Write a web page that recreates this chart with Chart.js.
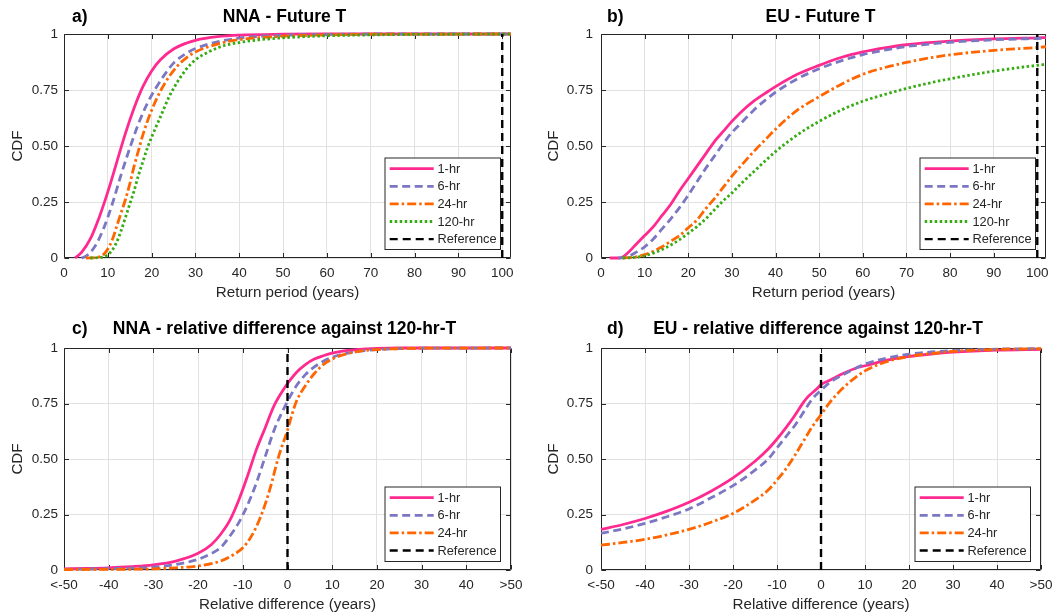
<!DOCTYPE html>
<html>
<head>
<meta charset="utf-8">
<script src="https://cdn.jsdelivr.net/npm/chart.js@4"></script>
<style>
  body { margin: 0; background: #fff; }
  #wrap { position: relative; width: 1060px; height: 615px; }
  canvas { position: absolute; }
</style>
</head>
<body>
<div id="wrap">
  <canvas id="cA" width="530" height="300" style="left:0;top:0"></canvas>
  <canvas id="cB" width="530" height="300" style="left:530px;top:0"></canvas>
  <canvas id="cC" width="530" height="315" style="left:0;top:300px"></canvas>
  <canvas id="cD" width="530" height="315" style="left:530px;top:300px"></canvas>
</div>
<script>
// ---- data: [x, CDF] ----
const nnaFut1hr = [[2.5,0],[4,0.025],[6,0.085],[8,0.18],[10,0.295],[12,0.425],[14,0.555],[16,0.67],[18,0.765],[20,0.835],[22,0.885],[25,0.933],[28,0.96],[30,0.972],[35,0.988],[40,0.995],[50,0.999],[60,1],[102,1]];
const nnaFut6hr = [[4,0],[5,0.008],[7,0.05],[9,0.13],[11,0.24],[13,0.37],[15,0.49],[17,0.6],[19,0.69],[21,0.76],[23,0.82],[25,0.87],[28,0.915],[30,0.935],[35,0.965],[40,0.982],[50,0.994],[60,0.998],[70,1],[102,1]];
const nnaFut24hr = [[5,0],[8,0.005],[9,0.015],[10,0.04],[11,0.08],[12,0.14],[13,0.2],[14,0.26],[15,0.33],[16,0.41],[17,0.48],[18,0.55],[20,0.66],[22,0.745],[24,0.81],[26,0.86],[28,0.895],[30,0.92],[35,0.955],[40,0.975],[50,0.99],[60,0.996],[70,0.999],[102,1]];
const nnaFut120hr = [[6,0],[9,0.005],[10,0.015],[11,0.035],[12,0.07],[13,0.12],[14,0.18],[15,0.24],[16,0.3],[17,0.37],[18,0.43],[19,0.49],[20,0.54],[22,0.63],[24,0.72],[26,0.79],[28,0.845],[30,0.885],[33,0.92],[36,0.945],[40,0.962],[45,0.975],[50,0.983],[60,0.992],[70,0.996],[80,0.998],[102,1]];

const euFut1hr = [[2,0],[4,0],[5,0.005],[6,0.02],[8,0.06],[10,0.1],[12,0.14],[14,0.19],[16,0.24],[18,0.3],[20,0.355],[22,0.41],[24,0.465],[26,0.52],[28,0.565],[30,0.61],[32,0.65],[35,0.7],[38,0.74],[40,0.765],[45,0.82],[50,0.86],[55,0.895],[60,0.92],[65,0.938],[70,0.952],[80,0.968],[90,0.978],[100,0.983],[102,0.984]];
const euFut6hr = [[4,0],[6,0.005],[8,0.025],[10,0.05],[12,0.085],[14,0.13],[16,0.175],[18,0.225],[20,0.28],[22,0.34],[24,0.4],[26,0.455],[28,0.51],[30,0.56],[32,0.6],[35,0.66],[38,0.71],[40,0.74],[45,0.8],[50,0.845],[55,0.88],[60,0.908],[65,0.928],[70,0.944],[80,0.963],[90,0.974],[100,0.98],[102,0.981]];
const euFut24hr = [[5,0],[8,0.005],[10,0.015],[12,0.03],[14,0.05],[16,0.075],[18,0.1],[20,0.135],[22,0.17],[24,0.22],[26,0.265],[28,0.315],[30,0.365],[32,0.41],[35,0.475],[38,0.535],[40,0.575],[45,0.66],[50,0.72],[55,0.775],[60,0.82],[65,0.85],[70,0.873],[75,0.892],[80,0.907],[90,0.927],[100,0.94],[102,0.943]];
const euFut120hr = [[5,0],[8,0.003],[10,0.01],[12,0.022],[14,0.038],[16,0.058],[18,0.082],[20,0.11],[22,0.14],[24,0.175],[26,0.215],[28,0.255],[30,0.29],[32,0.33],[35,0.385],[38,0.44],[40,0.475],[45,0.55],[50,0.61],[55,0.66],[60,0.7],[65,0.73],[70,0.757],[75,0.78],[80,0.8],[85,0.818],[90,0.834],[95,0.848],[100,0.86],[102,0.865]];

const nnaDiff1hr = [[-50,0.005],[-45,0.007],[-40,0.01],[-35,0.015],[-30,0.023],[-25,0.04],[-20,0.075],[-17,0.115],[-15,0.16],[-13,0.22],[-11,0.31],[-9,0.42],[-7,0.54],[-5,0.64],[-3,0.74],[-1,0.81],[0,0.84],[2,0.89],[4,0.925],[6,0.95],[8,0.965],[10,0.977],[13,0.988],[16,0.994],[20,0.998],[25,1],[50,1]];
const nnaDiff6hr = [[-50,0.003],[-40,0.006],[-30,0.013],[-25,0.025],[-20,0.048],[-17,0.075],[-15,0.1],[-13,0.15],[-11,0.21],[-9,0.29],[-7,0.39],[-5,0.51],[-3,0.63],[-1,0.72],[0,0.76],[2,0.83],[4,0.88],[6,0.915],[8,0.94],[10,0.958],[13,0.975],[16,0.985],[20,0.993],[25,0.997],[30,0.999],[50,1]];
const nnaDiff24hr = [[-50,0.002],[-40,0.003],[-30,0.005],[-25,0.01],[-20,0.018],[-15,0.04],[-12,0.07],[-10,0.1],[-8,0.155],[-6,0.24],[-4,0.36],[-2,0.51],[0,0.63],[1,0.7],[2,0.76],[4,0.83],[6,0.885],[8,0.925],[10,0.95],[13,0.972],[16,0.985],[20,0.993],[25,0.997],[30,0.999],[50,1]];

const euDiff1hr = [[-50,0.183],[-45,0.205],[-40,0.232],[-35,0.265],[-30,0.305],[-25,0.355],[-20,0.415],[-15,0.49],[-12,0.545],[-10,0.59],[-8,0.64],[-6,0.695],[-4,0.755],[-3,0.78],[-1,0.815],[0,0.835],[2,0.855],[5,0.885],[8,0.91],[10,0.92],[15,0.945],[20,0.962],[25,0.973],[30,0.981],[40,0.99],[50,0.994]];
const euDiff6hr = [[-50,0.165],[-45,0.185],[-40,0.21],[-35,0.24],[-30,0.275],[-25,0.325],[-20,0.38],[-15,0.45],[-12,0.5],[-10,0.55],[-8,0.6],[-6,0.65],[-4,0.71],[-2,0.77],[0,0.81],[2,0.845],[5,0.88],[8,0.91],[10,0.928],[15,0.955],[20,0.972],[25,0.982],[30,0.988],[40,0.995],[50,0.997]];
const euDiff24hr = [[-50,0.112],[-45,0.124],[-40,0.138],[-35,0.158],[-30,0.183],[-25,0.215],[-20,0.255],[-15,0.315],[-12,0.36],[-10,0.405],[-8,0.455],[-6,0.515],[-4,0.58],[-2,0.645],[0,0.7],[2,0.755],[4,0.8],[6,0.838],[8,0.87],[10,0.897],[13,0.925],[16,0.945],[20,0.962],[25,0.975],[30,0.985],[40,0.993],[50,0.997]];

const refFut = [[100,0],[100,1]];
const refDiff = [[0,0],[0,1]];

const seriesNames = ['1-hr', '6-hr', '24-hr', '120-hr', 'Reference'];
const xTicksFut = [0,10,20,30,40,50,60,70,80,90,100];
const xLabelsFut = ['0','10','20','30','40','50','60','70','80','90','100'];
const xTicksDiff = [-50,-40,-30,-20,-10,0,10,20,30,40,50];
const xLabelsDiff = ['<-50','-40','-30','-20','-10','0','10','20','30','40','>50'];
const yTicks = [0, 0.25, 0.5, 0.75, 1];
const yTickLabels = ['0', '0.25', '0.50', '0.75', '1'];

// ---- styles ----
const fontFam = '"Liberation Sans", Arial, Helvetica, sans-serif';
const ink = '#262626';
const lineColors = ['#ff2a8f', '#7b77c2', '#ff6600', '#36ab12', '#000000'];
const lineDashes = [[], [8, 4.5], [9, 3, 2.5, 3], [2.5, 2.5], [8, 5]];
const lineWidths = [2.8, 2.8, 2.8, 2.8, 2.4];

// box + inward ticks (matlab style)
const framePlugin = {
  id: 'frame',
  beforeDatasetsDraw(chart) {
    const { ctx, chartArea: a, scales: { x, y } } = chart;
    const L = Math.round(a.left) + 0.5, R = Math.round(a.right) - 0.5;
    const T = Math.round(a.top) + 0.5, B = Math.round(a.bottom) - 0.5;
    ctx.save();
    ctx.strokeStyle = ink;
    ctx.lineWidth = 1;
    ctx.beginPath();
    x.ticks.forEach(t => {
      const px = Math.round(x.getPixelForValue(t.value)) + 0.5;
      ctx.moveTo(px, B); ctx.lineTo(px, B - 4.5);
      ctx.moveTo(px, T); ctx.lineTo(px, T + 4.5);
    });
    y.ticks.forEach(t => {
      const py = Math.round(y.getPixelForValue(t.value)) + 0.5;
      ctx.moveTo(L, py); ctx.lineTo(L + 4.5, py);
      ctx.moveTo(R, py); ctx.lineTo(R - 4.5, py);
    });
    ctx.rect(L, T, R - L, B - T);
    ctx.stroke();
    ctx.restore();
  }
};

// legend box inside the lower right corner
const boxLegend = {
  id: 'boxLegend',
  afterDatasetsDraw(chart) {
    const { ctx, chartArea: a } = chart;
    const ds = chart.data.datasets;
    const rowH = 17.6, w = 116, edge = 10.7;
    const h = edge * 2 + rowH * (ds.length - 1);
    const right = Math.round(a.right - 11.5) + 0.5;
    const bottom = Math.round(a.bottom - 9) + 0.5;
    const left = Math.round(right - w) + 0.5 - 0.5, top = Math.round(bottom - h) + 0.5 - 0.5;
    ctx.save();
    ctx.fillStyle = '#fff';
    ctx.fillRect(left, top, right - left, bottom - top);
    ctx.strokeStyle = ink;
    ctx.lineWidth = 1;
    ctx.strokeRect(left, top, right - left, bottom - top);
    ctx.font = '12.8px ' + fontFam;
    ctx.textBaseline = 'middle';
    ctx.textAlign = 'left';
    ds.forEach((d, i) => {
      const cy = top + edge + i * rowH;
      ctx.beginPath();
      ctx.setLineDash(d.borderDash || []);
      ctx.strokeStyle = d.borderColor;
      ctx.lineWidth = d.borderWidth;
      ctx.moveTo(left + 4.7, cy);
      ctx.lineTo(left + 48.7, cy);
      ctx.stroke();
      ctx.setLineDash([]);
      ctx.fillStyle = ink;
      ctx.fillText(d.label, left + 52.5, cy + 0.5);
    });
    ctx.restore();
  }
};

// "a)"  + bold title
const headPlugin = {
  id: 'head',
  afterDraw(chart, args, o) {
    const { ctx, chartArea: a } = chart;
    ctx.save();
    ctx.fillStyle = '#000';
    ctx.font = 'bold 17.5px ' + fontFam;
    ctx.textBaseline = 'middle';
    ctx.textAlign = 'left';
    ctx.fillText(o.tag, a.left + o.tagDx, o.y);
    ctx.textAlign = 'center';
    ctx.fillText(o.text, (a.left + a.right) / 2 - 3, o.y);
    ctx.restore();
  }
};

function makePanel(id, p) {
  const datasets = p.series.map((pts, k) => {
    const s = p.styles[k];
    return {
      label: seriesNames[s],
      data: pts,
      borderColor: lineColors[s],
      borderWidth: lineWidths[s],
      borderDash: lineDashes[s],
      borderCapStyle: 'butt',
      pointRadius: 0,
      cubicInterpolationMode: s === 4 ? 'default' : 'monotone',
      tension: 0,
      fill: false,
      clip: 3,
      order: 10 - k
    };
  });
  return new Chart(document.getElementById(id), {
    type: 'line',
    data: { datasets: datasets },
    plugins: [framePlugin, boxLegend, headPlugin],
    options: {
      responsive: false,
      animation: false,
      events: [],
      layout: { padding: p.pad },
      plugins: {
        legend: { display: false },
        tooltip: { enabled: false },
        head: { tag: p.tag, text: p.title, y: p.titleY, tagDx: p.tagDx }
      },
      scales: {
        x: {
          type: 'linear',
          min: p.xMin,
          max: p.xMax,
          afterFit: s => { s.height = p.xH; },
          afterBuildTicks: s => { s.ticks = p.xTicks.map(v => ({ value: v })); },
          ticks: {
            font: { family: fontFam, size: 13.5 },
            color: ink,
            padding: 7.5,
            maxRotation: 0,
            autoSkip: false,
            callback: (v, i) => p.xLabels[i]
          },
          grid: { color: '#e1e1e1', drawTicks: false },
          border: { display: false },
          title: {
            display: true, text: p.xTitle, color: ink,
            font: { family: fontFam, size: 15.2, lineHeight: 1 },
            padding: 0
          }
        },
        y: {
          type: 'linear',
          min: 0,
          max: 1,
          afterFit: s => { s.width = p.yW; },
          afterBuildTicks: s => { s.ticks = yTicks.map(v => ({ value: v })); },
          ticks: {
            font: { family: fontFam, size: 13.5 },
            color: ink,
            padding: p.yPad,
            callback: (v, i) => yTickLabels[i]
          },
          grid: { color: '#e1e1e1', drawTicks: false },
          border: { display: false },
          title: {
            display: true, text: 'CDF', color: ink,
            font: { family: fontFam, size: 15.2, lineHeight: 1 },
            padding: { top: p.yTitlePad, bottom: 0 }
          }
        }
      }
    }
  });
}

makePanel('cA', {
  series: [nnaFut1hr, nnaFut6hr, nnaFut24hr, nnaFut120hr, refFut], styles: [0, 1, 2, 3, 4],
  tag: 'a)', title: 'NNA - Future T', titleY: 17, tagDx: 8,
  xMin: 0, xMax: 102, xTicks: xTicksFut, xLabels: xLabelsFut, xTitle: 'Return period (years)',
  pad: { left: 0, top: 34, right: 19, bottom: 0 }, yW: 64, xH: 42, yPad: 6, yTitlePad: 10.5
});
makePanel('cB', {
  series: [euFut1hr, euFut6hr, euFut24hr, euFut120hr, refFut], styles: [0, 1, 2, 3, 4],
  tag: 'b)', title: 'EU - Future T', titleY: 17, tagDx: 6,
  xMin: 0, xMax: 102, xTicks: xTicksFut, xLabels: xLabelsFut, xTitle: 'Return period (years)',
  pad: { left: 0, top: 34, right: 14, bottom: 0 }, yW: 71, xH: 42, yPad: 8, yTitlePad: 16
});
makePanel('cC', {
  series: [nnaDiff1hr, nnaDiff6hr, nnaDiff24hr, refDiff], styles: [0, 1, 2, 4],
  tag: 'c)', title: 'NNA - relative difference against 120-hr-T', titleY: 29.5, tagDx: 8,
  xMin: -50, xMax: 50, xTicks: xTicksDiff, xLabels: xLabelsDiff, xTitle: 'Relative difference (years)',
  pad: { left: 0, top: 48, right: 19, bottom: 3 }, yW: 64, xH: 42, yPad: 6, yTitlePad: 10.5
});
makePanel('cD', {
  series: [euDiff1hr, euDiff6hr, euDiff24hr, refDiff], styles: [0, 1, 2, 4],
  tag: 'd)', title: 'EU - relative difference against 120-hr-T', titleY: 29.5, tagDx: 6,
  xMin: -50, xMax: 50, xTicks: xTicksDiff, xLabels: xLabelsDiff, xTitle: 'Relative difference (years)',
  pad: { left: 0, top: 48, right: 14, bottom: 3 }, yW: 71, xH: 42, yPad: 8, yTitlePad: 16
});
</script>
</body>
</html>
